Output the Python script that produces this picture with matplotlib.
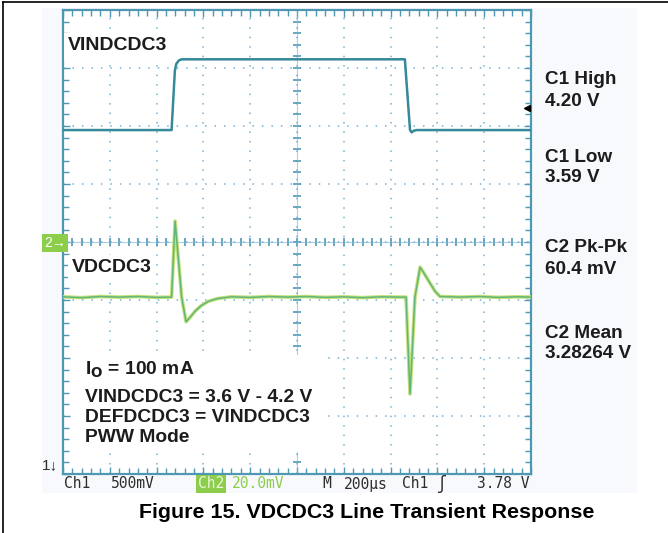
"""
Scope capture: VDCDC3 line transient response (VINDCDC3 step 3.6 V -> 4.2 V).
"""
import matplotlib.pyplot as plt
import numpy as np
from matplotlib.lines import Line2D
from matplotlib.patches import Rectangle

W, H = 668, 533

# Ch1: VINDCDC3 in volts against time in us (500 mV/div, 200 us/div)
CH1_T = [0, 464, 478, 484, 495, 507, 1461, 1483, 1490, 1500, 1513, 2000]
CH1_V = [3.59, 3.59, 4.10, 4.16, 4.19, 4.20, 4.20, 3.59, 3.57, 3.585, 3.59, 3.59]

# Ch2: VDCDC3 deviation from its baseline in mV (20 mV/div)
CH2_T = [0, 80, 160, 240, 320, 400, 464, 479, 507, 526, 545, 565, 590,
         620, 660, 720, 800, 880, 960, 1040, 1120, 1200, 1280, 1360, 1430,
         1466, 1483, 1504, 1526, 1540, 1555, 1570, 1590, 1611, 1700, 1780,
         1860, 1940, 2000]
CH2_MV = [0.1, -0.2, 0.2, 0.0, 0.2, -0.1, 0.0, 26.2, 0.0, -8.5, -6.8,
          -4.8, -3.0, -1.5, -0.5, 0.1, -0.1, 0.2, 0.0, 0.2, -0.1, 0.1,
          -0.2, 0.1, 0.0, 0.0, -33.4, 0.0, 10.3, 8.6, 6.6, 4.6, 2.0, 0.2,
          0.0, 0.2, -0.1, 0.1, 0.0]

# Scope settings / measurements
CH1_OFFSET = 2.625   # V at the centre line
CH1_SCALE = 0.5      # V/div
CH2_OFFSET = 19.0    # mV (relative) at the centre line
CH2_SCALE = 20.0     # mV/div
TRIG_LEVEL = 3.78

MEAS_LABELS = ["C1 High", "C1 Low", "C2 Pk-Pk", "C2 Mean"]
MEAS_VALUES = ["4.20 V", "3.59 V", "60.4 mV", "3.28264 V"]
MEAS_Y = [80, 157, 248, 333]

NOTES = ["VINDCDC3 = 3.6 V - 4.2 V", "DEFDCDC3 = VINDCDC3", "PWW Mode"]

GRID_COLOR = "#74b2d6"
FRAME_COLOR = "#4f98b4"
CH1_COLOR = "#35899b"
CH2_COLOR = "#62b67a"
CH2_GLOW = "#c4e27a"
TEXT_COLOR = "#1c1c1c"
SCOPE_TEXT = "#2e2e2e"
CH2_TAG = "#8cce4c"


def px(x, y):
    """Pixel position (from top-left) to figure fraction."""
    return x / W, 1 - y / H


def main() -> None:
    plt.rcParams["font.family"] = ["Liberation Sans", "DejaVu Sans"]
    fig = plt.figure(figsize=(W / 100, H / 100), dpi=100)
    fig.patch.set_facecolor("white")

    # scope screenshot backdrop
    fig.add_artist(Rectangle(px(42, 493), 595 / W, 485 / H,
                             transform=fig.transFigure, facecolor="#f8f9fc",
                             edgecolor="none", zorder=0))
    # page frame (left and top only)
    fig.add_artist(Line2D([3 / W, 3 / W], [0, 1 - 2 / H], color="black",
                          lw=1.2, transform=fig.transFigure))
    fig.add_artist(Line2D([3 / W, 1], [1 - 2 / H, 1 - 2 / H], color="black",
                          lw=1.2, transform=fig.transFigure))

    left, top, right, bottom = 63, 10, 531, 474
    rect = [left / W, 1 - bottom / H, (right - left) / W, (bottom - top) / H]

    # graticule in divisions
    gax = fig.add_axes(rect)
    gax.set_facecolor("white")
    gax.set_xlim(-5, 5)
    gax.set_ylim(-4, 4)
    gax.set_xticks(np.arange(-5, 6, 1))
    gax.set_yticks(np.arange(-4, 5, 1))
    gax.set_xticks(np.arange(-5, 5.01, 0.2), minor=True)
    gax.set_yticks(np.arange(-4, 4.01, 0.2), minor=True)
    gax.tick_params(which="both", direction="in", top=True, right=True,
                    labelbottom=False, labelleft=False, color=FRAME_COLOR,
                    width=1)
    gax.tick_params(which="major", length=5)
    gax.tick_params(which="minor", length=4)
    gax.grid(which="major", color=GRID_COLOR, lw=1.1,
             linestyle=(0, (1, 5.2)))
    for spine in gax.spines.values():
        spine.set_color(FRAME_COLOR)
        spine.set_linewidth(1.6)
    xs = np.arange(-5, 5.01, 0.2)
    ys = np.arange(-4, 4.01, 0.2)
    gax.plot(xs, np.zeros_like(xs), ls="none", marker="|", ms=6,
             mew=1.2, color=FRAME_COLOR)
    gax.plot(np.zeros_like(ys), ys, ls="none", marker="_", ms=6,
             mew=1.2, color=FRAME_COLOR)
    gax.axhline(0, color=GRID_COLOR, lw=0.8, alpha=0.6)
    gax.axvline(0, color=GRID_COLOR, lw=0.8, alpha=0.6)

    # channel 1
    ax1 = fig.add_axes(rect)
    ax1.patch.set_alpha(0)
    ax1.set_axis_off()
    ax1.set_xlim(0, 2000)
    ax1.set_ylim(CH1_OFFSET - 4 * CH1_SCALE, CH1_OFFSET + 4 * CH1_SCALE)
    ax1.plot(CH1_T, CH1_V, color=CH1_COLOR, lw=1.8, zorder=3)

    # channel 2
    ax2 = fig.add_axes(rect)
    ax2.patch.set_alpha(0)
    ax2.set_axis_off()
    ax2.set_xlim(0, 2000)
    ax2.set_ylim(CH2_OFFSET - 4 * CH2_SCALE, CH2_OFFSET + 4 * CH2_SCALE)
    ax2.plot(CH2_T, CH2_MV, color=CH2_GLOW, lw=2.6, zorder=3)
    ax2.plot(CH2_T, CH2_MV, color=CH2_COLOR, lw=1.1, zorder=4)

    # trigger level arrow on the right edge
    ax1.plot([1985], [TRIG_LEVEL], marker="<", ms=5, color="black",
             clip_on=False, zorder=5)

    # trace labels
    fig.text(*px(68, 46), "VINDCDC3", fontsize=14, fontweight="bold",
             color=TEXT_COLOR, va="center", ha="left",
             bbox=dict(facecolor="white", edgecolor="none", pad=3))
    fig.text(*px(72, 268), "VDCDC3", fontsize=14, fontweight="bold",
             color=TEXT_COLOR, va="center", ha="left",
             bbox=dict(facecolor="white", edgecolor="none", pad=3))

    # operating conditions block
    fig.add_artist(Rectangle(px(72, 452), 250 / W, 97 / H,
                             transform=fig.transFigure, facecolor="white",
                             edgecolor="none", zorder=1))
    fig.text(*px(85, 370), r"I$_\mathbf{O}$ = 100 mA", fontsize=13.9,
             fontweight="bold", color=TEXT_COLOR, va="center", ha="left")
    for i, line in enumerate(NOTES):
        fig.text(*px(85, 397 + 20.5 * i), line, fontsize=13.9,
                 fontweight="bold", color=TEXT_COLOR, va="center", ha="left")

    # measurement readouts
    for label, value, y in zip(MEAS_LABELS, MEAS_VALUES, MEAS_Y):
        fig.text(*px(545, y), label, fontsize=13.6, fontweight="bold",
                 color=TEXT_COLOR, va="center", ha="left")
        fig.text(*px(545, y + 21), value, fontsize=13.6, fontweight="bold",
                 color=TEXT_COLOR, va="center", ha="left")

    # channel markers on the left edge
    fig.text(*px(44, 243), "2\u2192", fontsize=10, color="white",
             va="center", ha="left",
             bbox=dict(facecolor=CH2_TAG, edgecolor="none", pad=1.5))
    fig.text(*px(42, 465), "1\u2193", fontsize=11, color=SCOPE_TEXT,
             va="center", ha="left")

    # scope status line
    mono = ["DejaVu Sans Mono"]
    sy = 484
    fs = 10.5
    fig.text(*px(64, sy), "Ch1", fontsize=fs, family=mono,
             color=SCOPE_TEXT, va="center")
    fig.text(*px(111, sy), "500mV", fontsize=fs, family=mono,
             color=SCOPE_TEXT, va="center")
    fig.text(*px(198, sy), "Ch2", fontsize=fs, family=mono,
             color="#e8f5d8", va="center",
             bbox=dict(facecolor=CH2_TAG, edgecolor="none", pad=1.2))
    fig.text(*px(232, sy), "20.0mV", fontsize=fs, family=mono,
             color=CH2_TAG, va="center")
    fig.text(*px(322, sy), "M", fontsize=fs, family=mono,
             color=SCOPE_TEXT, va="center")
    fig.text(*px(344, sy), "200\u00b5s", fontsize=fs, family=mono,
             color=SCOPE_TEXT, va="center")
    fig.text(*px(402, sy), "Ch1", fontsize=fs, family=mono,
             color=SCOPE_TEXT, va="center")
    fig.text(*px(437, sy), "\u0283", fontsize=12, family=mono,
             color=SCOPE_TEXT, va="center")
    fig.text(*px(477, sy), "3.78 V", fontsize=fs, family=mono,
             color=SCOPE_TEXT, va="center")

    # caption
    fig.text(*px(367, 512), "Figure 15. VDCDC3 Line Transient Response",
             fontsize=15.4, fontweight="bold", color="black",
             va="center", ha="center")

    fig.savefig("out.png", dpi=100)


if __name__ == "__main__":
    main()
